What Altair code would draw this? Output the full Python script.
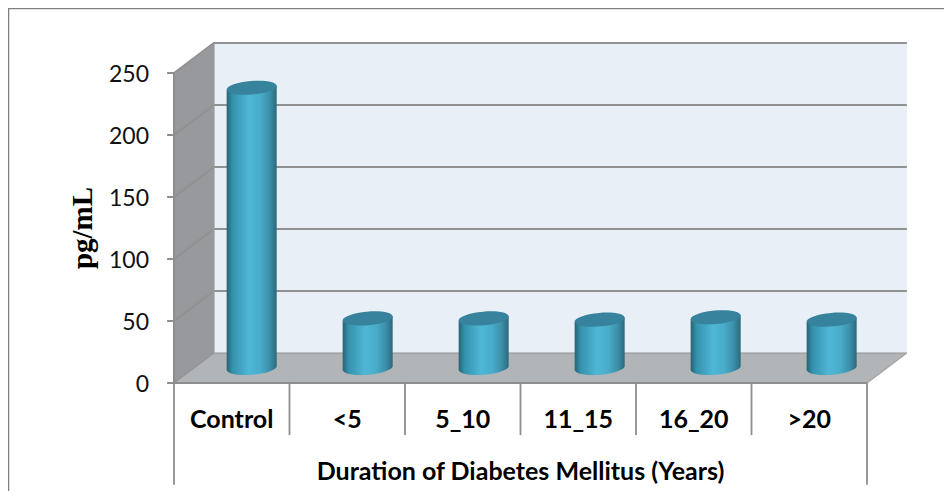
import altair as alt
import pandas as pd

categories = ["Control", "<5", "5_10", "11_15", "16_20", ">20"]
values = [226, 40, 40, 39, 41, 39]
y_ticks = [0, 50, 100, 150, 200, 250]
x_title = "Duration of Diabetes Mellitus (Years)"
y_title = "pg/mL"

DX, DY = 0.345, 24.2      # 3-D depth, in axis units
HALF, TILT = 0.2165, 1.7  # cylinder half width / lean, in axis units
n = len(categories)

xs = alt.Scale(domain=[0, 6], range=[166, 859], nice=False, zero=False)
ys = alt.Scale(domain=[0, 250], range=[375, 65], nice=False, zero=False)
X = alt.X("x:Q", scale=xs, axis=None)
Y_plain = alt.Y("y:Q", scale=ys, axis=None)
Y2 = alt.Y2("y2:Q")

GRAY = "#8e8e8e"

def area(points, fill):
    df = pd.DataFrame(points, columns=["x", "y", "y2"])
    return alt.Chart(df).mark_area(color=fill, opacity=1, line=False, interpolate="linear").encode(x=X, y=Y_plain, y2=Y2)

def line(points, color=GRAY, width=2.0):
    df = pd.DataFrame(points, columns=["x", "y"]).reset_index()
    return alt.Chart(df).mark_line(color=color, strokeWidth=width, interpolate="linear").encode(
        x=alt.X("x:Q", scale=xs, axis=None), y=Y_plain, order="index:Q")

back_wall = area([(DX, DY, 250 + DY), (6 + DX, DY, 250 + DY)], "#e8eff6")
left_wall = area([(0, 0, 250), (DX, DY, 250 + DY)], "#98999c")
floor = area([(0, 0, 0), (DX, DY, 0), (6, DY, 0), (6 + DX, DY, DY)], "#b1b5b8")

grid = []
for t in y_ticks:
    grid.append(line([(0, t), (DX, t + DY), (6 + DX, t + DY)], color="#919191", width=1.8 if t else 1.2))
    grid.append(line([(-0.06, t), (0, t)], width=2))
grid.append(line([(DX, DY), (DX, 250 + DY)], color="#9a9a9a", width=1.5))
grid.append(line([(6, 0), (6 + DX, DY)], color="#a5a5a5", width=1.2))
grid.append(line([(0, 0), (6, 0)], color=GRAY, width=2.2))
grid.append(line([(0, 0), (0, 250)], color=GRAY, width=2))

seps = []
for i in range(n + 1):
    bottom = -82 if i in (0, n) else -42
    seps.append(line([(i, 0), (i, bottom)], color=GRAY, width=1.8))

grad = alt.Gradient(
    gradient="linear", x1=0, x2=1, y1=0, y2=0,
    stops=[
        alt.GradientStop(color="#256474", offset=0),
        alt.GradientStop(color="#3592ad", offset=0.12),
        alt.GradientStop(color="#4fb7d6", offset=0.45),
        alt.GradientStop(color="#48abc9", offset=0.68),
        alt.GradientStop(color="#3c8fa8", offset=0.86),
        alt.GradientStop(color="#2a6a7e", offset=1),
    ],
)

body_rows, top_rows, base_rows = [], [], []
for i, (c, v) in enumerate(zip(categories, values)):
    cx = i * 1.0043 + 0.5 + DX / 2
    by = DY / 2
    body_rows += [
        {"cat": c, "x": cx - HALF, "y": v + by - TILT, "y2": by - TILT},
        {"cat": c, "x": cx + HALF, "y": v + by + TILT, "y2": by + TILT},
    ]
    top_rows.append({"cat": c, "x": cx, "y": v + by})
    base_rows.append({"cat": c, "x": cx, "y": by})

ELLIPSE = "M-1,0.08 A1.003,0.27,-4.6,1,1,1,-0.08 A1.003,0.27,-4.6,1,1,-1,0.08 Z"

base = alt.Chart(pd.DataFrame(base_rows)).mark_point(
    shape=ELLIPSE, size=2500, filled=True, opacity=1, color=grad
).encode(x=X, y=Y_plain)

body = alt.Chart(pd.DataFrame(body_rows)).mark_area(
    color=grad, opacity=1, line=False, interpolate="linear"
).encode(x=X, y=Y_plain, y2=Y2, detail="cat:N")

top = alt.Chart(pd.DataFrame(top_rows)).mark_point(
    shape=ELLIPSE, size=2500, filled=True, opacity=1, color="#37829c"
).encode(x=X, y=Y_plain)

tick_text = alt.Chart(pd.DataFrame({"x": [-0.216] * len(y_ticks), "y": y_ticks, "label": [str(t) for t in y_ticks]})).mark_text(
    font="Lato", fontSize=23, color="#111111", align="right", baseline="middle", dy=1.5
).encode(x=X, y=Y_plain, text="label:N")

ytitle_text = alt.Chart(pd.DataFrame({"x": [-0.785], "y": [125], "label": [y_title]})).mark_text(
    font="Liberation Serif", fontSize=29, fontWeight="bold", color="#000000", angle=270, align="center", baseline="middle"
).encode(x=X, y=Y_plain, text="label:N")

cat_text = alt.Chart(pd.DataFrame({
    "x": [i + 0.5 for i in range(n)], "y": [-30.1] * n, "label": categories
})).mark_text(font="Lato", fontSize=25, fontWeight="bold", color="#000000").encode(
    x=X, y=Y_plain, text="label:N")

title_text = alt.Chart(pd.DataFrame({"x": [3], "y": [-71.6], "label": [x_title]})).mark_text(
    font="Lato", fontSize=25, fontWeight="bold", color="#000000"
).encode(x=X, y=Y_plain, text="label:N")

frame_left = alt.Chart(pd.DataFrame({"k": [0]})).mark_rule(color="#808080", strokeWidth=1.5).encode(
    x=alt.value(0.5), y=alt.value(0), y2=alt.value(483))
frame_top = alt.Chart(pd.DataFrame({"k": [0]})).mark_rule(color="#808080", strokeWidth=1.5).encode(
    x=alt.value(0), x2=alt.value(936), y=alt.value(0.5))

chart = alt.layer(
    frame_left, frame_top, back_wall, left_wall, floor, *grid, *seps,
    base, body, top, tick_text, ytitle_text, cat_text, title_text
).properties(
    width=936, height=483, padding=0, background="white",
    autosize=alt.AutoSizeParams(type="none"),
).configure_view(stroke=None)

chart.save("out.html", embed_options={"renderer": "svg", "actions": False})
